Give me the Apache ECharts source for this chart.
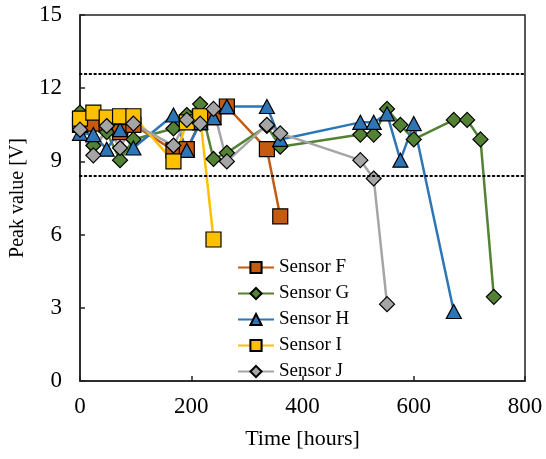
<!DOCTYPE html>
<html>
<head>
<meta charset="utf-8">
<script src="https://cdn.jsdelivr.net/npm/echarts@6/dist/echarts.min.js"></script>
<style>
  html, body { margin: 0; padding: 0; background: #fff; }
  #chart { width: 546px; height: 459px; }
</style>
</head>
<body>
<div id="chart"></div>
<script>
// 数据 (hours / peak value)
var hoursF = [0, 24, 48, 72, 96, 168, 192, 216, 240, 264, 336, 360];
var peakF = [10.5, 10.55, 10.5, 10.2, 10.5, 9.45, 9.5, 10.6, 10.8, 11.25, 9.5, 6.75];

var hoursG = [0, 24, 48, 72, 96, 168, 192, 216, 240, 264, 336, 360, 504, 528, 552, 576, 600, 672, 696, 720, 744];
var peakG = [11.0, 9.65, 10.2, 9.05, 9.9, 10.35, 10.9, 11.35, 9.1, 9.35, 10.45, 9.6, 10.1, 10.1, 11.15, 10.5, 9.9, 10.7, 10.7, 9.9, 3.45];

var hoursH = [0, 24, 48, 72, 96, 168, 192, 216, 240, 264, 336, 360, 504, 528, 552, 576, 600, 672];
var peakH = [10.15, 10.1, 9.5, 10.3, 9.55, 10.9, 9.45, 10.6, 10.8, 11.25, 11.25, 9.9, 10.6, 10.6, 10.95, 9.05, 10.55, 2.85];

var hoursI = [0, 24, 48, 72, 96, 168, 192, 216, 240];
var peakI = [10.75, 11.0, 10.8, 10.85, 10.85, 9.0, 10.6, 10.85, 5.8];

var hoursJ = [0, 24, 48, 72, 96, 168, 192, 216, 240, 264, 336, 360, 504, 528, 552];
var peakJ = [10.3, 9.25, 10.45, 9.55, 10.55, 9.65, 10.7, 10.55, 11.15, 9.0, 10.5, 10.15, 9.05, 8.3, 3.15];

var limitLines = [12.6, 8.4];

var font = '"Liberation Serif", "Times New Roman", serif';

function pairs(xs, ys) {
  return xs.map(function (x, i) { return [x, ys[i]]; });
}

function sensor(name, xs, ys, color, symbol, size) {
  return {
    name: name,
    type: 'line',
    data: pairs(xs, ys),
    symbol: symbol,
    symbolSize: size,
    showAllSymbol: true,
    lineStyle: { color: color, width: 2.5 },
    itemStyle: { color: color, borderColor: '#000', borderWidth: 1.2 },
    emphasis: { disabled: true },
    animation: false
  };
}

var chart = echarts.init(document.getElementById('chart'));

var series = [
  sensor('Sensor F', hoursF, peakF, '#C55A11', 'rect', 15),
  sensor('Sensor G', hoursG, peakG, '#548235', 'diamond', [15, 15]),
  sensor('Sensor H', hoursH, peakH, '#2E75B6', 'triangle', [15, 14]),
  sensor('Sensor I', hoursI, peakI, '#FFC000', 'rect', 15),
  sensor('Sensor J', hoursJ, peakJ, '#A5A5A5', 'diamond', [15, 15])
];

// 上下限虚线
series[0].markLine = {
  silent: true,
  symbol: 'none',
  label: { show: false },
  lineStyle: { color: '#000', type: [1.5, 3.3], width: 2, cap: 'round' },
  data: limitLines.map(function (v) { return { yAxis: v }; })
};

chart.setOption({
  animation: false,
  textStyle: { fontFamily: font },
  grid: {
    left: 80, right: 21, top: 15, bottom: 78,
    show: true, borderColor: '#222', borderWidth: 1.5
  },
  legend: {
    orient: 'vertical',
    left: 232,
    top: 253,
    itemWidth: 36,
    itemHeight: 14,
    itemGap: 7,
    textStyle: { fontFamily: font, fontSize: 19, color: '#000' },
    data: ['Sensor F', 'Sensor G', 'Sensor H', 'Sensor I', 'Sensor J']
  },
  xAxis: {
    type: 'value',
    min: 0, max: 800, interval: 200,
    name: 'Time [hours]',
    nameLocation: 'middle',
    nameGap: 47,
    nameTextStyle: { fontFamily: font, fontSize: 22, color: '#000' },
    axisLine: { lineStyle: { color: '#222', width: 1.5 } },
    axisTick: { inside: true, length: 5, lineStyle: { color: '#222', width: 1.5 } },
    axisLabel: { fontFamily: font, fontSize: 23, color: '#000', margin: 14 },
    splitLine: { show: false }
  },
  yAxis: {
    type: 'value',
    min: 0, max: 15, interval: 3,
    name: 'Peak value [V]',
    nameLocation: 'middle',
    nameGap: 52,
    nameTextStyle: { fontFamily: font, fontSize: 20, color: '#000' },
    axisLine: { lineStyle: { color: '#222', width: 1.5 } },
    axisTick: { inside: true, length: 5, lineStyle: { color: '#222', width: 1.5 } },
    axisLabel: { fontFamily: font, fontSize: 23, color: '#000', margin: 18 },
    splitLine: { show: false }
  },
  series: series
});
</script>
</body>
</html>
